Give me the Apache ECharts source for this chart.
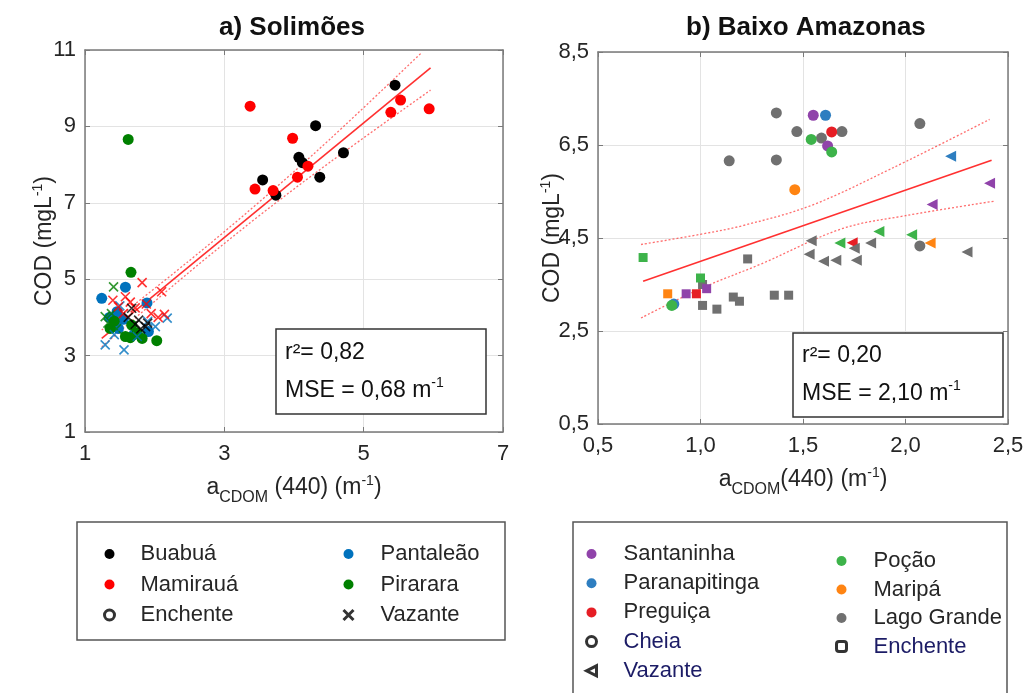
<!DOCTYPE html>
<html><head><meta charset="utf-8">
<script src="https://cdn.jsdelivr.net/npm/echarts@6/dist/echarts.min.js"></script>
<style>html,body{margin:0;padding:0;background:#fff}#c{width:1028px;height:693px}</style>
</head><body><div id="c"></div>
<script>
// ---------- tick values ----------
const solTicksX = [1, 3, 5, 7];
const solTicksY = [1, 3, 5, 7, 9, 11];
const baiTicksX = [0.5, 1.0, 1.5, 2.0, 2.5];
const baiTicksY = [0.5, 2.5, 4.5, 6.5, 8.5];

// ---------- a) Solimões : [aCDOM, COD] ----------
const buabuaEnchente = [[5.45,10.08],[4.31,9.02],[4.07,8.19],[4.12,8.05],[4.71,8.31],[3.55,7.60],[4.37,7.67],[3.74,7.20]];
const mamirauaEnchente = [[3.37,9.53],[3.98,8.69],[5.53,9.69],[5.39,9.37],[5.94,9.46],[4.20,7.96],[4.05,7.67],[3.44,7.36],[3.70,7.32]];
const pantaleaoEnchente = [[1.24,4.50],[1.58,4.79],[1.89,4.38],[1.46,4.15],[1.48,3.71],[1.91,3.63],[1.55,3.95],[1.70,3.55],[1.35,4.00]];
const pirararaEnchente = [[1.62,8.66],[1.66,5.18],[1.36,3.71],[1.82,3.45],[2.03,3.39],[1.58,3.50],[1.67,3.80],[1.42,3.90],[1.75,3.60],[1.65,3.47]];
const pirararaVazante = [[1.41,4.80],[1.29,4.02],[1.33,3.85],[1.45,3.70],[1.38,4.10]];
const pantaleaoVazante = [[1.29,3.28],[1.56,3.15],[2.18,3.98],[2.01,3.76],[1.50,4.30],[1.75,3.50],[1.90,3.90],[1.42,3.55]];
const mamirauaVazante = [[1.82,4.91],[2.10,4.67],[1.58,4.54],[1.48,4.28],[1.65,4.40],[1.95,4.10],[2.14,4.08],[1.72,4.25],[1.55,4.10],[1.88,4.35],[1.40,4.45],[2.05,4.00]];
const buabuaVazante = [[1.67,4.24],[1.77,3.93],[1.87,3.76],[1.72,3.82],[1.80,3.70],[1.62,4.00],[1.90,3.85]];
const solFit = [[1.24,3.45],[5.96,10.53]];
const solUpper = [[1.24,3.67],[2.5,5.49],[3.5,7.02],[4.5,8.64],[5.82,10.91]];
const solLower = [[1.24,3.23],[2.5,5.19],[3.5,6.66],[4.5,8.04],[5.96,9.95]];

// ---------- b) Baixo Amazonas ----------
const santaninhaCheia = [[1.55,7.14],[1.62,6.48]];
const santaninhaVazante = [[2.13,5.22],[2.41,5.68]];
const santaninhaEnchente = [[0.93,3.30],[1.03,3.41]];
const paranapitingaCheia = [[1.61,7.14],[0.87,3.08]];
const paranapitingaVazante = [[2.22,6.26]];
const preguicaCheia = [[1.64,6.78]];
const preguicaVazante = [[1.74,4.40]];
const preguicaEnchente = [[0.98,3.30]];
const pocaoCheia = [[1.54,6.62],[1.64,6.35],[0.86,3.05]];
const pocaoVazante = [[1.68,4.39],[1.87,4.64],[2.03,4.57]];
const pocaoEnchente = [[0.72,4.08],[1.00,3.64]];
const maripaCheia = [[1.46,5.54]];
const maripaVazante = [[2.12,4.39]];
const maripaEnchente = [[0.84,3.30]];
const lagoCheia = [[1.37,7.19],[1.47,6.79],[1.59,6.65],[1.69,6.79],[2.07,6.96],[1.14,6.16],[1.37,6.18],[2.07,4.33]];
const lagoVazante = [[1.54,4.44],[1.53,4.15],[1.60,4.00],[1.66,4.02],[1.75,4.28],[1.76,4.02],[1.83,4.39],[2.30,4.20]];
const lagoEnchente = [[1.01,3.50],[1.01,3.05],[1.08,2.97],[1.16,3.23],[1.19,3.14],[1.23,4.05],[1.36,3.27],[1.43,3.27]];
const baiFit = [[0.72,3.57],[2.42,6.17]];
const baiUpper = [[0.71,4.36],[1.0,4.58],[1.21,4.77],[1.54,5.20],[1.93,5.99],[2.41,7.05]];
const baiLower = [[0.71,2.78],[1.0,3.41],[1.3,3.95],[1.69,4.70],[2.0,4.98],[2.43,5.29]];

// ---------- style ----------
const FONT = "'Liberation Sans', Arial, sans-serif";
const AX = '#7a7a7a';
const comma = v => v.toFixed(1).replace('.', ',');

function axisPair(kind, ticks, grid, fmt) {
  const base = {
    type: 'value', gridIndex: grid, min: ticks[0], max: ticks[ticks.length - 1],
    interval: ticks[1] - ticks[0],
    axisLine: { show: true, onZero: false, lineStyle: { color: AX, width: 1.5 } },
    axisTick: { show: true, inside: true, length: 5, lineStyle: { color: AX, width: 1 } }
  };
  const main = Object.assign({}, base, {
    position: kind === 'x' ? 'bottom' : 'left',
    splitLine: { show: true, lineStyle: { color: '#e3e3e3', width: 1 } },
    axisLabel: { show: true, fontFamily: FONT, fontSize: 22, color: '#262626',
      margin: kind === 'x' ? 11 : 9, formatter: fmt }
  });
  const sec = Object.assign({}, base, {
    position: kind === 'x' ? 'top' : 'right',
    splitLine: { show: false }, axisLabel: { show: false }
  });
  return [main, sec];
}

const xa = axisPair('x', solTicksX, 0, v => String(v));
const ya = axisPair('y', solTicksY, 0, v => String(v));
const xb = axisPair('x', baiTicksX, 1, comma);
const yb = axisPair('y', baiTicksY, 1, comma);

const nameRich = {
  m: { fontFamily: FONT, fontSize: 23, color: '#262626', lineHeight: 36, verticalAlign: 'middle' },
  sub: { fontFamily: FONT, fontSize: 16, color: '#262626', lineHeight: 36, verticalAlign: 'bottom' },
  s: { fontFamily: FONT, fontSize: 14, color: '#262626', lineHeight: 36, verticalAlign: 'top', padding: [4, 0, 0, 0] }
};
xa[0].name = '{m|a}{sub|CDOM}{m| (440) (m}{s|-1}{m|)}';
xb[0].name = '{m|a}{sub|CDOM}{m|(440) (m}{s|-1}{m|)}';
ya[0].name = yb[0].name = '{m|COD (mgL}{s|-1}{m|)}';
[xa[0], xb[0]].forEach(a => { a.nameLocation = 'middle'; a.nameGap = 38; a.nameMoveOverlap = false; a.nameTextStyle = { rich: nameRich }; });
[ya[0], yb[0]].forEach(a => { a.nameLocation = 'middle'; a.nameGap = 22; a.nameMoveOverlap = false; a.nameTextStyle = { rich: nameRich }; });
yb[0].nameGap = 27;

const XPATH = 'path://M0,0L10,10M10,0L0,10';
const TRI = 'path://M0,5L10,0L10,10Z';

function dots(name, data, color, g, size, symbol) {
  return { type: 'scatter', name, data, xAxisIndex: g * 2, yAxisIndex: g * 2,
    symbol: symbol || 'circle', symbolSize: size, itemStyle: { color, opacity: 1 } };
}
function crosses(name, data, color) {
  return { type: 'scatter', name, data, xAxisIndex: 0, yAxisIndex: 0, symbol: XPATH, symbolSize: 9,
    itemStyle: { color: 'rgba(0,0,0,0)', borderColor: color, borderWidth: 1.6, opacity: 0.8 } };
}
function line(name, data, g, dotted) {
  return { type: 'line', name, data, xAxisIndex: g * 2, yAxisIndex: g * 2, showSymbol: false, symbol: 'none',
    smooth: dotted ? 0.35 : false, silent: true, z: 1,
    lineStyle: { color: dotted ? 'rgba(255,60,60,0.75)' : '#ff3030', width: dotted ? 1.3 : 1.6, type: dotted ? [2, 2] : 'solid' } };
}

const C = { blk: '#000000', red: '#ff0000', blu: '#0072bd', grn: '#008000',
  pur: '#9043aa', pbl: '#2e7ec0', prd: '#e61e25', pgr: '#3db34a', por: '#ff8412', pgy: '#707070' };

const ring = { color: '#fff', borderColor: '#000', borderWidth: 3 };

const series = [
  line('fitA', solFit, 0, false), line('upA', solUpper, 0, true), line('loA', solLower, 0, true),
  dots('Buabuá', buabuaEnchente, C.blk, 0, 11),
  dots('Mamirauá', mamirauaEnchente, C.red, 0, 11),
  dots('Pantaleão', pantaleaoEnchente, C.blu, 0, 11),
  dots('Pirarara', pirararaEnchente, C.grn, 0, 11),
  crosses('Pirarara V', pirararaVazante, C.grn),
  crosses('Pantaleão V', pantaleaoVazante, C.blu),
  crosses('Mamirauá V', mamirauaVazante, C.red),
  crosses('Buabuá V', buabuaVazante, C.blk),
  { type: 'scatter', name: 'Enchente', data: [], xAxisIndex: 0, yAxisIndex: 0, symbol: 'circle', symbolSize: 9, itemStyle: ring },
  { type: 'scatter', name: 'Vazante', data: [], xAxisIndex: 0, yAxisIndex: 0, symbol: XPATH, symbolSize: 8,
    itemStyle: { color: 'rgba(0,0,0,0)', borderColor: '#000', borderWidth: 3 } },

  line('fitB', baiFit, 1, false), line('upB', baiUpper, 1, true), line('loB', baiLower, 1, true),
  dots('Lago Grande', lagoCheia, C.pgy, 1, 11),
  dots('Lago Grande E', lagoEnchente, C.pgy, 1, 9, 'rect'),
  dots('Paranapitinga', paranapitingaCheia, C.pbl, 1, 11),
  dots('Santaninha', santaninhaCheia, C.pur, 1, 11),
  dots('Preguiça', preguicaCheia, C.prd, 1, 11),
  dots('Poção', pocaoCheia, C.pgr, 1, 11),
  dots('Maripá', maripaCheia, C.por, 1, 11),
  dots('Santaninha E', santaninhaEnchente, C.pur, 1, 9, 'rect'),
  dots('Preguiça E', preguicaEnchente, C.prd, 1, 9, 'rect'),
  dots('Poção E', pocaoEnchente, C.pgr, 1, 9, 'rect'),
  dots('Maripá E', maripaEnchente, C.por, 1, 9, 'rect'),
  dots('Santaninha V', santaninhaVazante, C.pur, 1, 11, TRI),
  dots('Paranapitinga V', paranapitingaVazante, C.pbl, 1, 11, TRI),
  dots('Preguiça V', preguicaVazante, C.prd, 1, 11, TRI),
  dots('Poção V', pocaoVazante, C.pgr, 1, 11, TRI),
  dots('Maripá V', maripaVazante, C.por, 1, 11, TRI),
  dots('Lago Grande V', lagoVazante, C.pgy, 1, 11, TRI),
  { type: 'scatter', name: 'Cheia', data: [], xAxisIndex: 2, yAxisIndex: 2, symbol: 'circle', symbolSize: 9, itemStyle: ring },
  { type: 'scatter', name: 'Vazante ', data: [], xAxisIndex: 2, yAxisIndex: 2, symbol: TRI, symbolSize: 10, itemStyle: ring },
  { type: 'scatter', name: 'Enchente ', data: [], xAxisIndex: 2, yAxisIndex: 2, symbol: 'roundRect', symbolSize: 9, itemStyle: ring }
];

const legText = { fontFamily: FONT, fontSize: 22, color: '#262626', lineHeight: 20 };
const navy = { color: '#1c1c66' };
function ringItem(name, extra) {
  return Object.assign({ name, itemStyle: { color: '#fff', borderColor: '#000', borderWidth: 3 } }, extra || {});
}
function leg(left, top, data, gap, pad, size) {
  return { orient: 'vertical', left, top, data, itemGap: gap, itemWidth: size, itemHeight: size,
    selectedMode: false, padding: 0, formatter: n => n.trim(),
    textStyle: Object.assign({}, legText, { padding: [0, 0, 0, pad] }) };
}

const option = {
  animation: false,
  backgroundColor: '#ffffff',
  title: [
    { text: 'a) Solimões', left: 219, top: 15, padding: 0, textStyle: { fontFamily: FONT, fontSize: 26, fontWeight: 'bold', color: '#111' } },
    { text: 'b) Baixo Amazonas', left: 686, top: 15, padding: 0, textStyle: { fontFamily: FONT, fontSize: 26, fontWeight: 'bold', color: '#111' } }
  ],
  grid: [
    { left: 85, top: 50, width: 418, height: 382 },
    { left: 598, top: 52, width: 410, height: 372 }
  ],
  xAxis: [xa[0], xa[1], xb[0], xb[1]],
  yAxis: [ya[0], ya[1], yb[0], yb[1]],
  legend: [
    leg(103, 543, ['Buabuá', 'Mamirauá', ringItem('Enchente')], 8.5, 21, 10),
    leg(342, 543, ['Pantaleão', 'Pirarara', { name: 'Vazante', itemStyle: { borderWidth: 3, borderColor: '#000' } }], 8.5, 22, 10),
    leg(585, 543, ['Santaninha', 'Paranapitinga', 'Preguiça', ringItem('Cheia', { textStyle: navy }), ringItem('Vazante ', { textStyle: navy })], 7.2, 22, 10),
    leg(835, 550, ['Poção', 'Maripá', 'Lago Grande', ringItem('Enchente ', { textStyle: navy })], 6.5, 22, 10)
  ],
  graphic: [
    { type: 'rect', shape: { x: 77, y: 522, width: 428, height: 118 }, style: { fill: null, stroke: '#555', lineWidth: 1.5 } },
    { type: 'rect', shape: { x: 573, y: 522, width: 434, height: 190 }, style: { fill: null, stroke: '#555', lineWidth: 1.5 } },
    { type: 'rect', shape: { x: 276, y: 329, width: 210, height: 85 }, style: { fill: '#fff', stroke: '#333', lineWidth: 1.5 }, z: 50 },
    { type: 'rect', shape: { x: 793, y: 333, width: 210, height: 84 }, style: { fill: '#fff', stroke: '#333', lineWidth: 1.5 }, z: 50 },
    { type: 'text', x: 285, y: 353, z: 51, style: { text: 'r²= 0,82', font: '23px ' + FONT, fill: '#111', verticalAlign: 'middle' } },
    { type: 'text', x: 285, y: 391, z: 51, style: { text: '{m|MSE = 0,68 m}{s|-1}', verticalAlign: 'middle',
      rich: { m: { fontFamily: FONT, fontSize: 23, fill: '#111', lineHeight: 30, verticalAlign: 'middle' }, s: { fontFamily: FONT, fontSize: 14, fill: '#111', lineHeight: 30, verticalAlign: 'top' } } } },
    { type: 'text', x: 802, y: 356, z: 51, style: { text: 'r²= 0,20', font: '23px ' + FONT, fill: '#111', verticalAlign: 'middle' } },
    { type: 'text', x: 802, y: 394, z: 51, style: { text: '{m|MSE = 2,10 m}{s|-1}', verticalAlign: 'middle',
      rich: { m: { fontFamily: FONT, fontSize: 23, fill: '#111', lineHeight: 30, verticalAlign: 'middle' }, s: { fontFamily: FONT, fontSize: 14, fill: '#111', lineHeight: 30, verticalAlign: 'top' } } } }
  ],
  series
};

const chart = echarts.init(document.getElementById('c'), null, { renderer: 'canvas' });
chart.setOption(option);
</script>
</body></html>
